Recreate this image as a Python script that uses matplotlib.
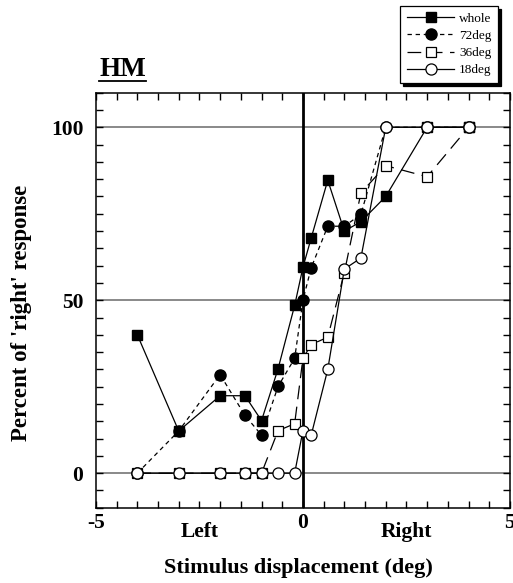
# Psychometric curves for subject HM: percent 'right' responses vs displacement
import matplotlib
matplotlib.use('Agg')
import matplotlib.pyplot as plt
from matplotlib.ticker import MultipleLocator, FixedLocator
from matplotlib.lines import Line2D
from matplotlib.transforms import blended_transform_factory

# ── data ───────────────────────────────────────────────────
displacement = [-4, -3, -2, -1.4, -1, -0.6, -0.2, 0, 0.2, 0.6, 1, 1.4, 2, 3, 4]
whole = [40, 12.2, 22.4, 22.4, 15.2, 30.2, 48.5, 59.5, 68, 84.7, 70, 72.7, 80, 100, 100]
deg72 = [0, 12.2, 28.5, 16.7, 11, 25.1, 33.2, 50, 59.4, 71.4, 71.4, 74.8, 100, 100, 100]
deg36 = [0, 0, 0, 0, 0, 12.3, 14.3, 33.2, 37.2, 39.3, 58, 81, 88.9, 85.7, 100]
deg18 = [0, 0, 0, 0, 0, 0, 0, 12.3, 11, 30, 59, 62.2, 100, 100, 100]
series_labels = ['whole', '72deg', '36deg', '18deg']

x_ticks = [-5, 0, 5]
x_tick_labels = ['-5', '0', '5']
y_ticks = [0, 50, 100]
y_tick_labels = ['0', '50', '100']
side_labels = ['Left', 'Right']
side_pos = [-2.5, 2.5]

plt.rcParams['font.family'] = ['Liberation Serif', 'DejaVu Serif']

fig = plt.figure(figsize=(5.13, 5.83), dpi=100)
ax = fig.add_axes([0.187, 0.129, 0.807, 0.712])

# reference lines: grid at 0/50/100 and the zero line
for yv in y_ticks:
    ax.axhline(yv, color='#808080', lw=1.3, zorder=1)
ax.axvline(0, color='black', lw=2, zorder=1.5)

# one line per condition (whole drawn over 72deg, 18deg on top)
ax.plot(displacement, whole, '-', color='black', lw=0.9, marker='s', ms=7.5,
        mfc='black', mec='black', label=series_labels[0], zorder=3.2)
ax.plot(displacement, deg72, color='black', lw=0.9, ls=(0, (3.5, 3)), marker='o',
        ms=8, mfc='black', mec='black', label=series_labels[1], zorder=3.1)
ax.plot(displacement, deg36, color='black', lw=0.9, ls=(0, (11, 6)), marker='s',
        ms=7.5, mfc='white', mec='black', mew=0.9, label=series_labels[2], zorder=3.3)
ax.plot(displacement, deg18, '-', color='black', lw=0.9, marker='o', ms=8,
        mfc='white', mec='black', mew=0.9, label=series_labels[3], zorder=3.4)

ax.set_xlim(-5, 5)
ax.set_ylim(-10, 110)

ax.xaxis.set_major_locator(FixedLocator(x_ticks))
ax.xaxis.set_minor_locator(MultipleLocator(0.5))
ax.yaxis.set_major_locator(FixedLocator(y_ticks))
ax.yaxis.set_minor_locator(MultipleLocator(5))
ax.set_xticklabels(x_tick_labels, fontsize=15.5, fontweight='bold')
ax.set_yticklabels(y_tick_labels, fontsize=15.5, fontweight='bold')
ax.tick_params(which='both', direction='in', top=True, right=True,
               length=5, width=1)
ax.tick_params(axis='x', pad=4)
ax.tick_params(axis='y', pad=9)
for sp in ax.spines.values():
    sp.set_linewidth(1.1)

# Left / Right under the x axis
trans = blended_transform_factory(ax.transData, ax.transAxes)
for pos, lab in zip(side_pos, side_labels):
    ax.text(pos, -0.058, lab, transform=trans, ha='center', va='center',
            fontsize=15.5, fontweight='bold')

ax.set_xlabel('Stimulus displacement (deg)', fontsize=16, fontweight='bold')
ax.xaxis.label.set_va('center')
ax.xaxis.set_label_coords(0.49, -0.145)
ax.set_ylabel("Percent of 'right' response", fontsize=16.5, fontweight='bold')
ax.yaxis.label.set_va('center')
ax.yaxis.set_label_coords(-0.179, 0.47)

# underlined subject name
title = ax.text(0.065, 1.055, 'HM', transform=ax.transAxes, ha='center',
                va='center', fontsize=19.5, fontweight='bold')
fig.canvas.draw()
bb = title.get_window_extent().transformed(fig.transFigure.inverted())
fig.add_artist(Line2D([bb.x0, bb.x1], [bb.y0 + 0.002, bb.y0 + 0.002],
                      transform=fig.transFigure, color='black', lw=1.3))

leg = fig.legend(loc='upper right', bbox_to_anchor=(0.971, 0.99),
                 borderaxespad=0, fontsize=9.5, frameon=True, fancybox=False,
                 edgecolor='black', framealpha=1, handlelength=3.6,
                 handletextpad=0.35, labelspacing=0.38, borderpad=0.5,
                 shadow={'color': 'black', 'alpha': 1})
leg.get_frame().set_linewidth(0.9)

fig.savefig('out.png', dpi=100)
